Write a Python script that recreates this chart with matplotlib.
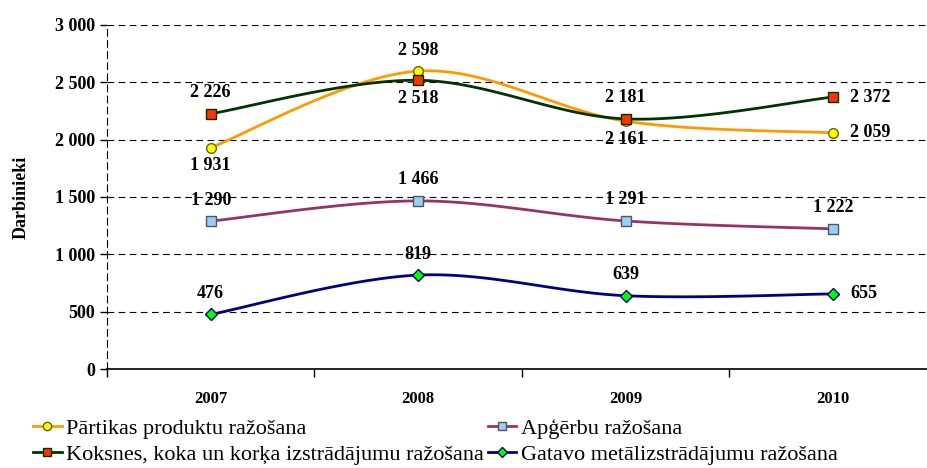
import numpy as np
import matplotlib
matplotlib.use("Agg")
import matplotlib.pyplot as plt
from matplotlib.ticker import FixedLocator, MultipleLocator

years = ["2007", "2008", "2009", "2010"]
partikas = [1931, 2598, 2161, 2059]
apgerbu = [1290, 1466, 1291, 1222]
koksnes = [2226, 2518, 2181, 2372]
gatavo = [476, 819, 639, 655]
names = ["Pārtikas produktu ražošana", "Apģērbu ražošana",
         "Koksnes, koka un korķa izstrādājumu ražošana", "Gatavo metālizstrādājumu ražošana"]
y_ticks = [0, 500, 1000, 1500, 2000, 2500, 3000]

plt.rcParams['font.family'] = ['Liberation Serif', 'DejaVu Serif']

def fmt(v):
    s = f"{v:,}".replace(",", " ")
    return s

def smooth(x, y, n=40):
    x = np.asarray(x, float); y = np.asarray(y, float)
    px = np.concatenate([[x[0]], x, [x[-1]]])
    py = np.concatenate([[y[0]], y, [y[-1]]])
    xs, ys = [], []
    for i in range(1, len(px) - 2):
        p0 = np.array([px[i], py[i]]); p3 = np.array([px[i+1], py[i+1]])
        c1 = p0 + (np.array([px[i+1], py[i+1]]) - np.array([px[i-1], py[i-1]])) / 6
        c2 = p3 - (np.array([px[i+2], py[i+2]]) - np.array([px[i], py[i]])) / 6
        t = np.linspace(0, 1, n)[:, None]
        b = (1-t)**3*p0 + 3*(1-t)**2*t*c1 + 3*(1-t)*t**2*c2 + t**3*p3
        xs.extend(b[:, 0]); ys.extend(b[:, 1])
    return xs, ys

fig = plt.figure(figsize=(9.28, 4.68), dpi=100)
ax = fig.add_axes([107/928, 1-369/468, 1-107/928, (369-25)/468])
x = np.arange(len(years))

series = [
    (partikas, '#FF9900', 'o', '#FFFF00', '#666600', 7),
    (apgerbu, '#993366', 's', '#99CCFF', '#555555', 7),
    (koksnes, '#003300', 's', '#FF3300', '#003300', 7),
    (gatavo, '#000080', 'D', '#00FF00', '#000080', 6),
]
handles = []
for (vals, lc, mk, mf, me, ms), nm in zip(series, names):
    sx, sy = smooth(x, vals)
    ax.plot(sx, sy, color=lc, lw=2, zorder=3)
    ax.plot(x, vals, ls='none', marker=mk, mfc=mf, mec=me, ms=ms, mew=1, zorder=4)
    h, = ax.plot([], [], color=lc, lw=2, marker=mk, mfc=mf, mec=me, ms=ms - 1, label=nm)
    handles.append(h)

lab_kw = dict(fontsize=13, fontweight='bold', zorder=5)

def lab(vals, i, pos):
    v = vals[i]
    if pos == 'above':
        ax.annotate(fmt(v), (x[i], v), xytext=(0, 9), textcoords='offset points', ha='center', va='bottom', **lab_kw)
    elif pos == 'below':
        ax.annotate(fmt(v), (x[i], v), xytext=(0, -7), textcoords='offset points', ha='center', va='top', **lab_kw)
    else:
        ax.annotate(fmt(v), (x[i], v), xytext=(12, 0), textcoords='offset points', ha='left', va='center', **lab_kw)

lab(koksnes, 0, 'above'); lab(partikas, 0, 'below'); lab(apgerbu, 0, 'above'); lab(gatavo, 0, 'above')
lab(partikas, 1, 'above'); lab(koksnes, 1, 'below'); lab(apgerbu, 1, 'above'); lab(gatavo, 1, 'above')
lab(koksnes, 2, 'above'); lab(partikas, 2, 'below'); lab(apgerbu, 2, 'above'); lab(gatavo, 2, 'above')
lab(koksnes, 3, 'right'); lab(partikas, 3, 'right'); lab(apgerbu, 3, 'above'); lab(gatavo, 3, 'right')

ax.set_xlim(-0.5, 3.5 - 9/207.5)
ax.set_ylim(0, 3000)
ax.set_yticks(y_ticks)
ax.set_yticklabels([fmt(v) for v in y_ticks], fontsize=13, fontweight='bold')
ax.set_xticks(x)
ax.set_xticklabels(years, fontsize=12, fontweight='bold')
ax.tick_params(axis='x', which='major', length=0, pad=16)
ax.xaxis.set_minor_locator(FixedLocator([-0.5, 0.5, 1.5, 2.5]))
ax.tick_params(axis='x', which='minor', length=6, width=1)
ax.tick_params(axis='y', length=5, width=1, direction='out')
ax.grid(axis='y', color='black', ls=(0, (6, 4)), lw=0.8)
for s in ['top', 'right']:
    ax.spines[s].set_visible(False)
ax.spines['left'].set_linestyle((0, (6, 4)))
ax.spines['left'].set_linewidth(0.8)
ax.spines['bottom'].set_linewidth(1.2)
ax.set_ylabel('Darbinieki', fontsize=13, fontweight='bold', labelpad=18)

order = [handles[0], handles[2], handles[1], handles[3]]
fig.legend(handles=order, labels=[h.get_label() for h in order], loc='lower left',
           bbox_to_anchor=(0.014, -0.036), ncol=2, frameon=False, fontsize=16,
           handlelength=1.3, handletextpad=0.2, columnspacing=0.15, labelspacing=0.25)

fig.savefig('out.png', dpi=100)
